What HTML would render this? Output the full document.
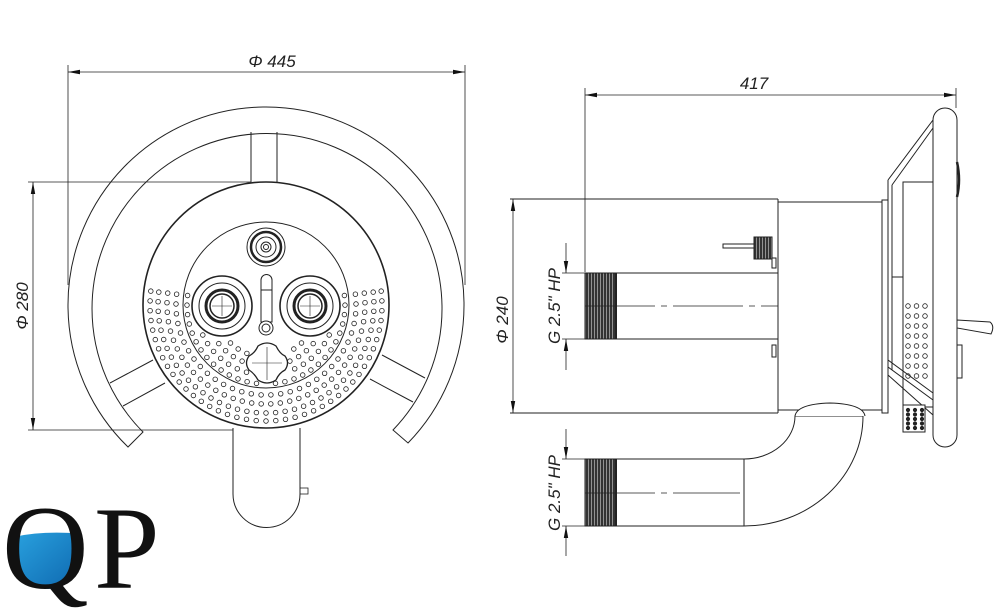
<!DOCTYPE html>
<html><head><meta charset="utf-8"><style>
html,body{margin:0;padding:0;background:#fff;width:1000px;height:611px;overflow:hidden}
svg{display:block}
.t{font-family:"Liberation Sans",sans-serif;font-style:italic;font-size:17px;fill:#222}
</style></head><body>
<svg id="s" width="1000" height="611" viewBox="0 0 1000 611" xmlns="http://www.w3.org/2000/svg">
<defs>
<marker id="a" viewBox="0 0 12 6" refX="12" refY="3" markerWidth="12" markerHeight="6" orient="auto-start-reverse" markerUnits="userSpaceOnUse"><path d="M0,0.8 L12,3 L0,5.2z" fill="#111"/></marker>
<linearGradient id="w" x1="0" y1="0" x2="1" y2="1"><stop offset="0" stop-color="#2aa3e0"/><stop offset="1" stop-color="#0a5fa8"/></linearGradient>
<pattern id="th" width="3" height="4" patternUnits="userSpaceOnUse"><rect width="3" height="4" fill="#333"/><rect width="0.8" height="4" fill="#aaa"/></pattern>
</defs>
<g fill="none" stroke="#222" stroke-width="1">
<line x1="68" y1="65" x2="68" y2="285" stroke-width="0.8"/>
<line x1="465" y1="65" x2="465" y2="285" stroke-width="0.8"/>
<line x1="68" y1="72" x2="465" y2="72" marker-start="url(#a)" marker-end="url(#a)" stroke-width="0.8"/>
<line x1="28" y1="182" x2="251" y2="182" stroke-width="0.8"/>
<line x1="28" y1="430" x2="250" y2="430" stroke-width="0.8"/>
<line x1="33" y1="182" x2="33" y2="430" marker-start="url(#a)" marker-end="url(#a)" stroke-width="0.8"/>
<path d="M128,447 A198,198 0 1 1 408,443 L393,430 A175,175 0 1 0 143,432 Z"/>
<path d="M251,132 L251,182 M277,132 L277,182"/>
<path d="M110,383 L153,360 M123,406 L165,383"/>
<path d="M382,355 L425,378 M370,379 L413,402"/>
<path d="M233,428 L233,494 A33.5,33.5 0 0 0 300,494 L300,428" fill="#fff"/>
<rect x="300" y="488" width="8" height="6" stroke-width="0.8"/>
<circle cx="266" cy="305" r="123" stroke-width="1.6" fill="#fff"/>
<circle cx="266" cy="305" r="83"/>
<circle cx="266" cy="247" r="19" fill="#fff"/>
<circle cx="266" cy="247" r="15" stroke-width="2.5"/>
<circle cx="266" cy="247" r="10"/>
<circle cx="266" cy="247" r="5"/>
<circle cx="266" cy="247" r="2.5"/>
<g>
<circle cx="222" cy="306" r="30" stroke-width="1.6" fill="#fff"/>
<circle cx="222" cy="306" r="23"/>
<circle cx="222" cy="306" r="16" stroke-width="3"/>
<circle cx="222" cy="306" r="12" stroke-width="1.5"/>
<path d="M212,306 H232 M222,296 V316" stroke-width="0.6"/>
</g>
<g>
<circle cx="310" cy="306" r="30" stroke-width="1.6" fill="#fff"/>
<circle cx="310" cy="306" r="23"/>
<circle cx="310" cy="306" r="16" stroke-width="3"/>
<circle cx="310" cy="306" r="12" stroke-width="1.5"/>
<path d="M300,306 H320 M310,296 V316" stroke-width="0.6"/>
</g>
<path d="M261,280 A5.5,5.5 0 0 1 272,280 L272,322 L261,322 Z" fill="#fff"/>
<line x1="261" y1="290" x2="272" y2="290"/>
<circle cx="266" cy="328" r="7" fill="#fff"/>
<circle cx="266" cy="328" r="4"/>
<path d="M258,346 Q267,340 276,346 Q280,354 285,356 Q290,363 285,370 Q279,373 276,380 Q267,386 258,380 Q254,373 249,370 Q244,363 249,356 Q255,353 258,346 Z" fill="#fff" stroke-width="1.3"/>
<path d="M252,363 H282 M267,347 V380" stroke-width="0.6"/>
<g id="dots" stroke-width="0.8"></g>

<line x1="585" y1="88" x2="585" y2="272" stroke-width="0.8"/>
<line x1="956" y1="88" x2="956" y2="108" stroke-width="0.8"/>
<line x1="585" y1="95" x2="956" y2="95" marker-start="url(#a)" marker-end="url(#a)" stroke-width="0.8"/>
<line x1="510" y1="199" x2="778" y2="199"/>
<line x1="510" y1="413" x2="778" y2="413"/>
<line x1="513" y1="199" x2="513" y2="413" marker-start="url(#a)" marker-end="url(#a)" stroke-width="0.8"/>
<line x1="778" y1="199" x2="778" y2="413"/>
<rect x="778" y="202" width="104" height="208" fill="#fff"/>
<rect x="882" y="200" width="6" height="213" fill="#fff"/>
<path d="M888,180 L933,120 M892,185 L933,128 M888,180 L888,360 M892,185 L892,370"/>
<rect x="903" y="182" width="30" height="225" fill="#fff"/>
<line x1="892" y1="277" x2="903" y2="277"/>
<path d="M888,360 L933,393 M888,367 L933,400 M888,375 L933,415"/>
<rect x="903" y="405" width="22" height="27" fill="#fff"/>
<rect x="933" y="108" width="24" height="339" rx="12" fill="#fff"/>
<path d="M957,162 Q961,180 957,197" stroke-width="2.5"/>
<path d="M957,320 L990,322 Q995,326 991,334 L957,328 Z" fill="#fff"/>
<rect x="957" y="345" width="5" height="33" fill="#fff"/>
<rect x="723" y="244" width="31" height="4" fill="#fff"/>
<rect x="754" y="237" width="18" height="22" fill="url(#th)"/>
<rect x="772" y="258" width="4" height="10" fill="#fff"/>
<rect x="772" y="345" width="4" height="12" fill="#fff"/>
<rect x="585" y="273" width="193" height="66" fill="#fff"/>
<rect x="585" y="273" width="31" height="66" fill="url(#th)"/>
<line x1="616" y1="273" x2="616" y2="339" stroke-width="2"/>
<line x1="585" y1="306" x2="778" y2="306" stroke-dasharray="70,6,6,6" stroke-width="0.8"/>
<path d="M744,526 A119,110 0 0 0 863,416 L795,416 A51,43 0 0 1 744,459" fill="#fff"/>
<path d="M795,416 Q797,404 830,403 Q863,404 865,416" fill="#fff"/>
<rect x="585" y="459" width="159" height="67" fill="#fff"/>
<rect x="585" y="459" width="31" height="67" fill="url(#th)"/>
<line x1="616" y1="459" x2="616" y2="526" stroke-width="2"/>
<line x1="585" y1="493" x2="740" y2="493" stroke-dasharray="70,6,6,6" stroke-width="0.8"/>
<path d="M562,273 H585 M562,339 H585 M562,459 H585 M562,526 H585" stroke-width="0.8"/>
<line x1="566" y1="243" x2="566" y2="273" marker-end="url(#a)" stroke-width="0.8"/>
<line x1="566" y1="370" x2="566" y2="339" marker-end="url(#a)" stroke-width="0.8"/>
<line x1="566" y1="429" x2="566" y2="459" marker-end="url(#a)" stroke-width="0.8"/>
<line x1="566" y1="556" x2="566" y2="526" marker-end="url(#a)" stroke-width="0.8"/>
</g>
<g id="rd" fill="none" stroke="#222" stroke-width="0.8"></g>
<text class="t" x="272" y="67" text-anchor="middle">Φ 445</text>
<text class="t" x="754" y="89" text-anchor="middle">417</text>
<text class="t" transform="translate(28,306) rotate(-90)" text-anchor="middle">Φ 280</text>
<text class="t" transform="translate(508,320) rotate(-90)" text-anchor="middle">Φ 240</text>
<text class="t" transform="translate(560,306) rotate(-90)" text-anchor="middle">G 2.5" HP</text>
<text class="t" transform="translate(560,493) rotate(-90)" text-anchor="middle">G 2.5" HP</text>
<clipPath id="qc"><ellipse cx="48" cy="553" rx="33" ry="36"/></clipPath>
<path d="M10,538 Q40,530 85,534 L85,600 L10,600 Z" fill="url(#w)" clip-path="url(#qc)"/>
<text x="2" y="588" font-family="Liberation Serif,serif" font-size="120" fill="#111">Q</text>
<text x="94" y="588" font-family="Liberation Serif,serif" font-size="118" fill="#111">P</text>
</svg>
<script>
var g=document.getElementById('dots'),cx=266,cy=305,out='';
var rs=[52,61,70,79,90,99,108,116];
rs.forEach(function(r){var n=Math.round(Math.PI*r/9);for(var i=0;i<=n;i++){var a=-0.12+(Math.PI+0.24)*i/n;var x=cx+r*Math.cos(a),y=cy+r*Math.sin(a);
if(Math.hypot(x-222,y-306)<34||Math.hypot(x-310,y-306)<34||Math.hypot(x-267,y-363)<22||Math.hypot(x-266,y-328)<12)continue;
if(Math.abs(x-266)<8&&y<340)continue;
out+='<circle cx="'+x.toFixed(1)+'" cy="'+y.toFixed(1)+'" r="2.3"/>';}});
g.innerHTML=out;
var o='';for(var j=0;j<8;j++)for(var k=0;k<3;k++){o+='<circle cx="'+(908+k*8.5)+'" cy="'+(306+j*10)+'" r="2.3"/>';}
for(var j=0;j<5;j++)for(var k=0;k<3;k++){o+='<circle cx="'+(908+k*7)+'" cy="'+(410+j*4.5)+'" r="1.7" fill="#222"/>';}
document.getElementById('rd').innerHTML=o;
</script>
</body></html>
